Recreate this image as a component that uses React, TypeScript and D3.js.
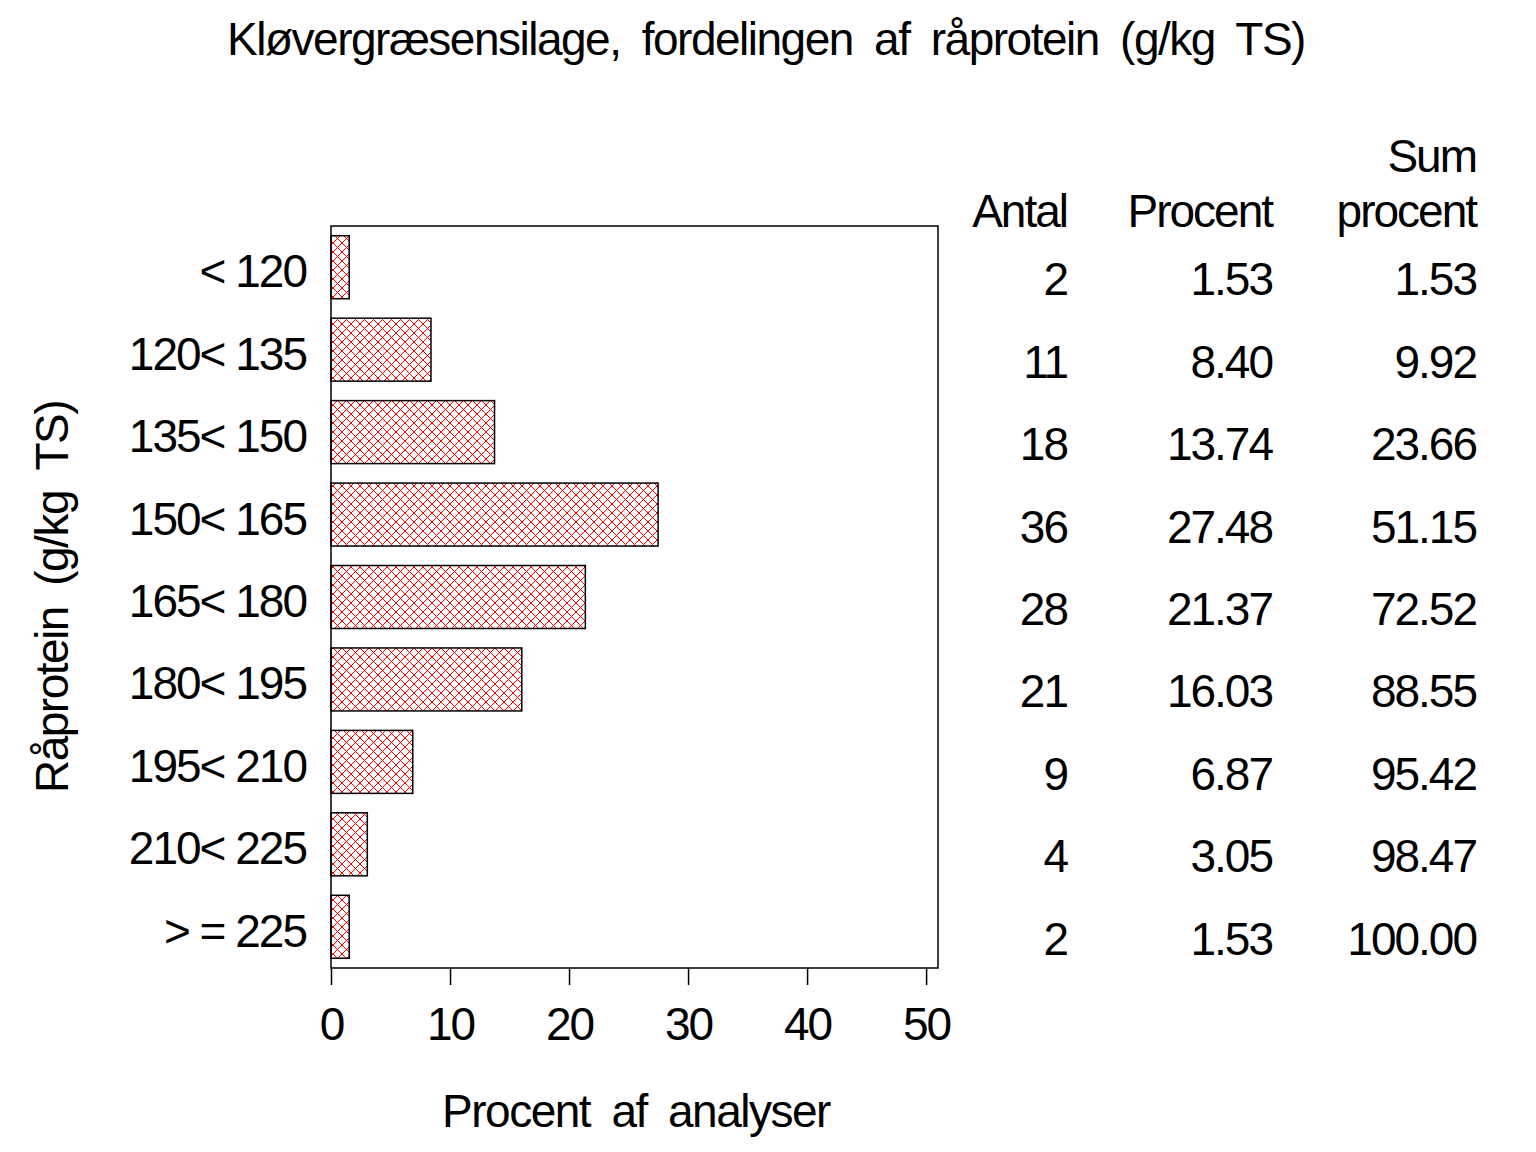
import { useEffect, useRef } from "react";
import * as d3 from "d3";

const categories = [
  "< 120",
  "120< 135",
  "135< 150",
  "150< 165",
  "165< 180",
  "180< 195",
  "195< 210",
  "210< 225",
  "> = 225",
];
const counts = [2, 11, 18, 36, 28, 21, 9, 4, 2];
const percents = [1.53, 8.4, 13.74, 27.48, 21.37, 16.03, 6.87, 3.05, 1.53];
const cumPercents = [1.53, 9.92, 23.66, 51.15, 72.52, 88.55, 95.42, 98.47, 100.0];
const xTicks = [0, 10, 20, 30, 40, 50];

const width = 1536;
const height = 1152;
const font = "'Liberation Sans', Arial, sans-serif";
const fs = 46;

export default function App() {
  const ref = useRef<SVGSVGElement | null>(null);

  useEffect(() => {
    if (!ref.current) return;
    const svg = d3.select(ref.current);
    svg.selectAll("*").remove();

    const left = 331;
    const right = 938;
    const top = 226;
    const bottom = 968;

    const x = d3.scaleLinear([0, 51], [left, right]);
    const y = d3
      .scaleBand<string>()
      .domain(categories)
      .range([top, bottom])
      .paddingInner(0.236)
      .paddingOuter(0.118);

    // crosshatch fill
    const defs = svg.append("defs");
    const pat = defs
      .append("pattern")
      .attr("id", "hatch")
      .attr("patternUnits", "userSpaceOnUse")
      .attr("width", 9)
      .attr("height", 9);
    pat
      .append("path")
      .attr("d", "M-1,-1L10,10M10,-1L-1,10")
      .attr("stroke", "#ff0000")
      .attr("stroke-width", 1)
      .attr("fill", "none");

    svg
      .append("rect")
      .attr("width", width)
      .attr("height", height)
      .attr("fill", "white");

    // title
    svg
      .append("text")
      .attr("x", 766)
      .attr("y", 55)
      .attr("text-anchor", "middle")
      .attr("font-size", fs)
      .attr("letter-spacing", -1.5)
      .attr("word-spacing", 10)
      .text("Kløvergræsensilage, fordelingen af råprotein (g/kg TS)");

    // frame
    svg
      .append("rect")
      .attr("x", left)
      .attr("y", top)
      .attr("width", right - left)
      .attr("height", bottom - top)
      .attr("fill", "none")
      .attr("stroke", "black")
      .attr("stroke-width", 1.5);

    // bars
    svg
      .selectAll("rect.bar")
      .data(percents)
      .enter()
      .append("rect")
      .attr("class", "bar")
      .attr("x", x(0))
      .attr("y", (_, i) => y(categories[i])!)
      .attr("width", (d) => x(d) - x(0))
      .attr("height", y.bandwidth())
      .attr("fill", "url(#hatch)")
      .attr("stroke", "black")
      .attr("stroke-width", 1.5);

    // x axis
    const xAxis = d3
      .axisBottom(x)
      .tickValues(xTicks)
      .tickSize(17)
      .tickPadding(22)
      .tickFormat((d) => String(d));
    const xg = svg
      .append("g")
      .attr("transform", `translate(0,${bottom})`)
      .call(xAxis);
    xg.select("path.domain").remove();
    xg.selectAll("line").attr("stroke", "black").attr("stroke-width", 1.5);
    xg.selectAll("text")
      .attr("font-size", fs)
      .attr("font-family", font)
      .attr("letter-spacing", -2)
      .attr("fill", "black");

    // y labels
    svg
      .selectAll("text.ylab")
      .data(categories)
      .enter()
      .append("text")
      .attr("class", "ylab")
      .attr("x", 306)
      .attr("y", (d) => y(d)! + y.bandwidth() / 2 + 20)
      .attr("text-anchor", "end")
      .attr("font-size", fs)
      .attr("letter-spacing", -2)
      .text((d) => d);

    // axis titles
    svg
      .append("text")
      .attr("x", 636)
      .attr("y", 1127)
      .attr("text-anchor", "middle")
      .attr("font-size", fs)
      .attr("letter-spacing", -1.5)
      .attr("word-spacing", 10)
      .text("Procent af analyser");

    svg
      .append("text")
      .attr("transform", "translate(68,597) rotate(-90)")
      .attr("text-anchor", "middle")
      .attr("font-size", fs)
      .attr("letter-spacing", -1.5)
      .attr("word-spacing", 10)
      .text("Råprotein (g/kg TS)");

    // table
    const cols = [
      { x: 1067, head: ["", "Antal"], vals: counts.map((d) => String(d)) },
      { x: 1272, head: ["", "Procent"], vals: percents.map((d) => d.toFixed(2)) },
      { x: 1476, head: ["Sum", "procent"], vals: cumPercents.map((d) => d.toFixed(2)) },
    ];
    cols.forEach((c) => {
      const g = svg
        .append("g")
        .attr("text-anchor", "end")
        .attr("font-size", fs)
        .attr("letter-spacing", -2);
      g.append("text").attr("x", c.x).attr("y", 172).text(c.head[0]);
      g.append("text").attr("x", c.x).attr("y", 227).text(c.head[1]);
      g.selectAll("text.val")
        .data(c.vals)
        .enter()
        .append("text")
        .attr("class", "val")
        .attr("x", c.x)
        .attr("y", (_, i) => y(categories[i])! + y.bandwidth() / 2 + 28)
        .text((d) => d);
    });
  }, []);

  return (
    <svg
      ref={ref}
      width={width}
      height={height}
      fontFamily={font}
      style={{ position: "absolute", left: 0, top: 0 }}
    />
  );
}
